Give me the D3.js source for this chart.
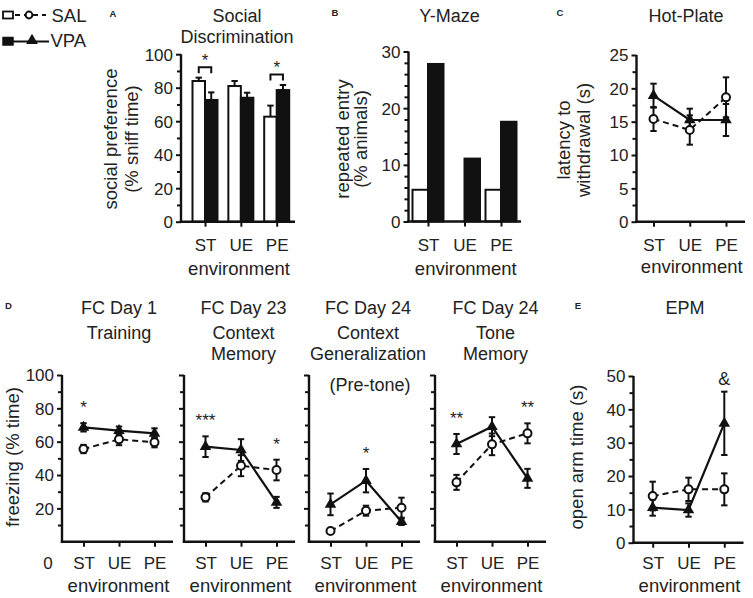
<!DOCTYPE html>
<html><head><meta charset="utf-8">
<script src="https://cdn.jsdelivr.net/npm/d3@7"></script>
<style>
body{margin:0;background:#fff}
svg{display:block}
text{font-family:"Liberation Sans",Arial,Helvetica,sans-serif;fill:#222}
</style>
</head><body><svg id="c" width="753" height="598"></svg>
<script>
// ---------------- DATA ----------------
const envs = ["ST", "UE", "PE"];
const groups = ["SAL", "VPA"];

// A: Social Discrimination (bars, mean + SEM)
const socialSAL = [84, 81, 62.7];
const socialSALErr = [2, 3, 6.6];
const socialVPA = [72.7, 74, 78.6];
const socialVPAErr = [4.5, 3, 3];
const socialSig = ["ST", "PE"];
const socialTicks = [0, 20, 40, 60, 80, 100];

// B: Y-Maze (bars)
const ymazeSAL = [5.6, 0, 5.6];
const ymazeVPA = [27.8, 11.1, 17.6];
const ymazeTicks = [0, 10, 20, 30];

// C: Hot-Plate
const hotSAL = [15.4, 13.75, 18.65];
const hotSALErr = [1.8, 2.2, 3];
const hotVPA = [18.9, 15.25, 15.25];
const hotVPAErr = [1.8, 1.7, 2.4];
const hotTicks = [0, 5, 10, 15, 20, 25];

// D: Fear conditioning
const fcTitles = [["FC Day 1", "Training"], ["FC Day 23", "Context", "Memory"],
                  ["FC Day 24", "Context", "Generalization"], ["FC Day 24", "Tone", "Memory"]];
const fcSAL = [[55.6, 61.4, 59.6], [26.6, 45.6, 43], [6.4, 18.6, 20.4], [35.6, 58.4, 65]];
const fcSALErr = [[2.5, 3.5, 3], [2.5, 6.3, 6.2], [1, 3, 6], [4.5, 6.5, 6]];
const fcVPA = [[68.6, 66.6, 65], [57, 55, 23.6], [22.4, 36.6, 12], [58.6, 69, 38]];
const fcVPAErr = [[2.5, 2.5, 3], [6.2, 6.5, 3.3], [6.5, 7, 2], [6, 5.7, 5.7]];
const fcStars = [[["ST", "*"]], [["ST", "***"], ["PE", "*"]], [["UE", "*"]], [["ST", "**"], ["PE", "**"]]];
const fcTicks = [20, 40, 60, 80, 100];

// E: EPM
const epmSAL = [14, 16, 16];
const epmSALErr = [4.3, 3.5, 4.8];
const epmVPA = [10.5, 9.8, 35.8];
const epmVPAErr = [2.4, 2, 9.5];
const epmSig = [["PE", "&"]];
const epmTicks = [0, 10, 20, 30, 40, 50];

// ---------------- DRAWING ----------------
const svg = d3.select("#c");
const INK = "#111";
const FONT = '"Liberation Sans",Arial,Helvetica,sans-serif';

function txt(x, y, s, size, opts = {}) {
  const t = svg.append("text").attr("x", x).attr("y", y).text(s)
    .attr("font-size", size).attr("text-anchor", opts.anchor || "middle")
    .attr("dominant-baseline", "central");
  if (opts.bold) t.attr("font-weight", "bold");
  if (opts.rotate) t.attr("transform", `rotate(-90,${x},${y})`);
  return t;
}

function vAxis(ax, y, majors, minors, showLabels) {
  const gm = svg.append("g").attr("transform", `translate(${ax},0)`)
    .call(d3.axisLeft(y).tickValues(minors).tickSize(4).tickFormat(""));
  gm.select(".domain").remove();
  const gM = svg.append("g").attr("transform", `translate(${ax},0)`)
    .call(d3.axisLeft(y).tickValues(majors).tickSize(5).tickPadding(3)
      .tickFormat(showLabels ? d3.format("d") : ""));
  gM.select(".domain").remove();
  [gm, gM].forEach(g => {
    g.attr("font-family", FONT).attr("font-size", 17);
    g.selectAll("line").attr("stroke", INK).attr("stroke-width", 2);
    g.selectAll("text").attr("fill", "#222").attr("dy", "0.35em");
  });
  const r = y.range();
  svg.append("line").attr("x1", ax).attr("x2", ax).attr("y1", r[0] + 1).attr("y2", r[1])
    .attr("stroke", INK).attr("stroke-width", 2.4);
}

function hAxis(ax, x1, y0, x, labelY, titleY) {
  const g = svg.append("g").attr("transform", `translate(0,${y0})`)
    .call(d3.axisBottom(x).tickSize(5).tickPadding(0));
  g.select(".domain").remove();
  g.attr("font-family", FONT).attr("font-size", 17);
  g.selectAll("line").attr("stroke", INK).attr("stroke-width", 2);
  g.selectAll("text").attr("fill", "#222").attr("y", labelY - y0).attr("dy", "0.35em");
  svg.append("line").attr("x1", ax - 1.2).attr("x2", x1).attr("y1", y0).attr("y2", y0)
    .attr("stroke", INK).attr("stroke-width", 2.4);
  txt((ax + x1) / 2 + 1, titleY, "environment", 18.5);
}

function errBar(cx, y, v, e, both) {
  const top = y(v + e), bot = both ? y(v - e) : y(v);
  svg.append("line").attr("x1", cx).attr("x2", cx).attr("y1", top).attr("y2", bot)
    .attr("stroke", INK).attr("stroke-width", 2);
  svg.append("line").attr("x1", cx - 3.2).attr("x2", cx + 3.2).attr("y1", top).attr("y2", top)
    .attr("stroke", INK).attr("stroke-width", 2);
  if (both) svg.append("line").attr("x1", cx - 3.2).attr("x2", cx + 3.2).attr("y1", bot).attr("y2", bot)
    .attr("stroke", INK).attr("stroke-width", 2);
}

function lineSeries(x, y, sal, salErr, vpa, vpaErr) {
  const line = d3.line().x((d, i) => x(envs[i])).y(d => y(d));
  svg.append("path").datum(sal).attr("d", line).attr("fill", "none")
    .attr("stroke", INK).attr("stroke-width", 2).attr("stroke-dasharray", "6,4");
  svg.append("path").datum(vpa).attr("d", line).attr("fill", "none")
    .attr("stroke", INK).attr("stroke-width", 2.2);
  envs.forEach((e, i) => {
    errBar(x(e), y, vpa[i], vpaErr[i], true);
    errBar(x(e), y, sal[i], salErr[i], true);
  });
  envs.forEach((e, i) => {
    svg.append("path").attr("d", d3.symbol(d3.symbolTriangle, 58)())
      .attr("transform", `translate(${x(e)},${y(vpa[i])})`).attr("fill", INK);
  });
  envs.forEach((e, i) => {
    svg.append("circle").attr("cx", x(e)).attr("cy", y(sal[i])).attr("r", 4)
      .attr("fill", "#fff").attr("stroke", INK).attr("stroke-width", 2);
  });
}

function bars(x, y, sal, vpa, bw) {
  envs.forEach((e, i) => {
    svg.append("rect").attr("x", x(e) - bw).attr("width", bw)
      .attr("y", y(sal[i])).attr("height", y(0) - y(sal[i]))
      .attr("fill", "#fff").attr("stroke", INK).attr("stroke-width", 2);
    svg.append("rect").attr("x", x(e)).attr("width", bw)
      .attr("y", y(vpa[i])).attr("height", y(0) - y(vpa[i]))
      .attr("fill", INK).attr("stroke", INK).attr("stroke-width", 2);
  });
}

// ---- Legend ----
svg.append("rect").attr("x", 3).attr("y", 11.5).attr("width", 10).attr("height", 7)
  .attr("fill", "#fff").attr("stroke", INK).attr("stroke-width", 1.8);
svg.append("line").attr("x1", 15).attr("x2", 46).attr("y1", 15).attr("y2", 15)
  .attr("stroke", INK).attr("stroke-width", 2).attr("stroke-dasharray", "5,4");
svg.append("circle").attr("cx", 29).attr("cy", 15).attr("r", 3.4)
  .attr("fill", "#fff").attr("stroke", INK).attr("stroke-width", 2);
txt(51.5, 15, groups[0], 18.5, { anchor: "start" });
svg.append("rect").attr("x", 3).attr("y", 37.5).attr("width", 10).attr("height", 7.5)
  .attr("fill", INK).attr("stroke", INK).attr("stroke-width", 1.5);
svg.append("line").attr("x1", 13).attr("x2", 49).attr("y1", 41.5).attr("y2", 41.5)
  .attr("stroke", INK).attr("stroke-width", 2);
svg.append("path").attr("d", d3.symbol(d3.symbolTriangle, 60)())
  .attr("transform", "translate(32,40.5)").attr("fill", INK);
txt(50.5, 40, groups[1], 18.5, { anchor: "start" });

// ---- Panel A ----
{
  const ax = 181, x1 = 295;
  const y = d3.scaleLinear().domain([0, 100]).range([221.7, 54.2]);
  const x = d3.scalePoint().domain(envs).range([205, 276.7]);
  const bw = 12.5;
  bars(x, y, socialSAL, socialVPA, bw);
  envs.forEach((e, i) => {
    errBar(x(e) - bw / 2, y, socialSAL[i], socialSALErr[i], false);
    errBar(x(e) + bw / 2, y, socialVPA[i], socialVPAErr[i], false);
  });
  socialSig.forEach(e => {
    const i = envs.indexOf(e);
    const top = Math.min(y(socialSAL[i] + socialSALErr[i]), y(socialVPA[i] + socialVPAErr[i])) - 10.5;
    const xa = x(e) - bw / 2, xb = x(e) + bw / 2;
    svg.append("path").attr("d", `M${xa},${top + 6}V${top}H${xb}V${top + 6}`)
      .attr("fill", "none").attr("stroke", INK).attr("stroke-width", 2);
    txt(x(e), top - 7, "*", 17);
  });
  vAxis(ax, y, socialTicks, d3.range(10, 100, 20), true);
  hAxis(ax, x1, 221.7, x, 245, 268);
  txt(110, 139, "social preference", 18.5, { rotate: true });
  txt(131.5, 139, "(% sniff time)", 18.5, { rotate: true });
  txt(237, 16, "Social", 18);
  txt(237, 37, "Discrimination", 18);
  txt(113, 13, "A", 9.5, { bold: true });
}

// ---- Panel B ----
{
  const ax = 408.5, x1 = 521;
  const y = d3.scaleLinear().domain([0, 30]).range([221.5, 51.5]);
  const x = d3.scalePoint().domain(envs).range([428, 501]);
  bars(x, y, ymazeSAL, ymazeVPA, 15.5);
  vAxis(ax, y, ymazeTicks, d3.range(2, 30, 2).filter(v => v % 10 !== 0), true);
  hAxis(ax, x1, 221.5, x, 245, 268);
  txt(342.5, 139, "repeated entry", 18.5, { rotate: true });
  txt(360, 139, "(% animals)", 18.5, { rotate: true });
  txt(449.5, 16, "Y-Maze", 18);
  txt(335, 12.5, "B", 9.5, { bold: true });
}

// ---- Panel C ----
{
  const ax = 636.5, x1 = 745;
  const y = d3.scaleLinear().domain([0, 25]).range([221.7, 55]);
  const x = d3.scalePoint().domain(envs).range([653.5, 726]);
  lineSeries(x, y, hotSAL, hotSALErr, hotVPA, hotVPAErr);
  vAxis(ax, y, hotTicks, d3.range(2.5, 25, 5), true);
  hAxis(ax, x1, 221.7, x, 245, 266);
  txt(563.5, 140, "latency to", 18.5, { rotate: true });
  txt(583, 140, "withdrawal (s)", 18.5, { rotate: true });
  txt(686, 16, "Hot-Plate", 18);
  txt(560, 12.5, "C", 9.5, { bold: true });
}

// ---- Panel D ----
{
  const axs = [62, 184, 309, 435];
  const titleX = [119, 243.5, 368, 495.5];
  const y = d3.scaleLinear().domain([0, 100]).range([541.7, 375]);
  axs.forEach((ax, k) => {
    const x = d3.scalePoint().domain(envs).range([ax + 21.5, ax + 92.5]);
    lineSeries(x, y, fcSAL[k], fcSALErr[k], fcVPA[k], fcVPAErr[k]);
    vAxis(ax, y, fcTicks, d3.range(10, 100, 20), k === 0);
    hAxis(ax, ax + 111, 541.7, x, 563.3, 585);
    fcStars[k].forEach(([e, s]) => {
      const i = envs.indexOf(e);
      const top = Math.min(y(fcSAL[k][i] + fcSALErr[k][i]), y(fcVPA[k][i] + fcVPAErr[k][i]));
      svg.append("text").attr("x", x(e)).attr("y", top - 10).attr("text-anchor", "middle")
        .attr("font-size", 17).text(s);
    });
    const lines = fcTitles[k];
    txt(titleX[k], 307.5, lines[0], 18);
    lines.slice(1).forEach((l, j) => {
      txt(titleX[k], lines.length === 2 ? 333 : 333 + j * 20.5, l, 18);
    });
  });
  txt(370, 385, "(Pre-tone)", 18);
  txt(48, 563.3, "0", 17);
  txt(12.5, 457, "freezing (% time)", 18.5, { rotate: true });
  txt(8.5, 305, "D", 9.5, { bold: true });
}

// ---- Panel E ----
{
  const ax = 633.5, x1 = 743.5;
  const y = d3.scaleLinear().domain([0, 50]).range([542.7, 376]);
  const x = d3.scalePoint().domain(envs).range([652.7, 724.3]);
  lineSeries(x, y, epmSAL, epmSALErr, epmVPA, epmVPAErr);
  vAxis(ax, y, epmTicks, d3.range(5, 50, 10), true);
  hAxis(ax, x1, 542.7, x, 563.3, 585);
  epmSig.forEach(([e, s]) => {
    const i = envs.indexOf(e);
    const top = Math.min(y(epmSAL[i] + epmSALErr[i]), y(epmVPA[i] + epmVPAErr[i]));
    txt(x(e), top - 12.5, s, 18);
  });
  txt(576, 457, "open arm time (s)", 18.5, { rotate: true });
  txt(685, 308, "EPM", 18);
  txt(578, 305, "E", 9.5, { bold: true });
}
</script>
</body></html>
